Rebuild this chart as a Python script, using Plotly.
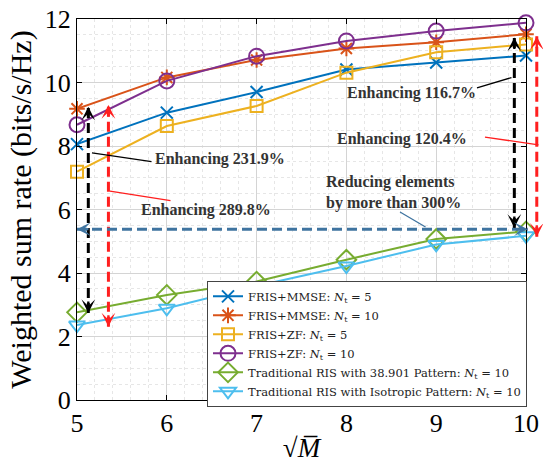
import plotly.graph_objects as go

# ---------------- data ----------------
sqrt_M = [5, 6, 7, 8, 9, 10]
fris_mmse_nt5 = [8.06, 9.05, 9.70, 10.41, 10.63, 10.85]
fris_mmse_nt10 = [9.17, 10.16, 10.71, 11.07, 11.27, 11.52]
fris_zf_nt5 = [7.19, 8.63, 9.26, 10.31, 10.95, 11.20]
fris_zf_nt10 = [8.67, 10.05, 10.83, 11.31, 11.62, 11.88]
trad_3gpp_nt10 = [2.76, 3.31, 3.73, 4.42, 5.07, 5.31]
trad_iso_nt10 = [2.36, 2.89, 3.59, 4.22, 4.90, 5.17]

series_names = [
    "FRIS+MMSE: <i>N</i><sub>t</sub> = 5",
    "FRIS+MMSE: <i>N</i><sub>t</sub> = 10",
    "FRIS+ZF: <i>N</i><sub>t</sub> = 5",
    "FRIS+ZF: <i>N</i><sub>t</sub> = 10",
    "Traditional RIS with 38.901 Pattern: <i>N</i><sub>t</sub> = 10",
    "Traditional RIS with Isotropic Pattern: <i>N</i><sub>t</sub> = 10",
]
series_values = [fris_mmse_nt5, fris_mmse_nt10, fris_zf_nt5, fris_zf_nt10,
                 trad_3gpp_nt10, trad_iso_nt10]
colors = ["#0072BD", "#D95319", "#EDB120", "#7E2F8E", "#77AC30", "#4DBEEE"]
symbols = ["x-thin-open", "asterisk-open", "square-open", "circle-open",
           "diamond-open", "triangle-down-open"]
msizes = [12, 13, 12, 15, 15, 14]

x_ticks = [5, 6, 7, 8, 9, 10]
y_ticks = [0, 2, 4, 6, 8, 10, 12]
X_RANGE = [5, 10]
Y_RANGE = [0, 12]

# dashed double-headed arrows: (x0, y0, x1, y1, colour)
dashed_arrows = [
    (5.126, 2.74, 5.126, 9.24, "#000000"),
    (5.35, 2.31, 5.35, 9.29, "#FF1F1F"),
    (9.87, 5.42, 9.87, 11.42, "#000000"),
    (10.12, 5.14, 10.12, 11.46, "#FF1F1F"),
    (5.0, 5.38, 10.02, 5.38, "#3F74A0"),
]

# annotation texts with pointer lines: text, text x, text y, line (x0,y0,x1,y1), colour
notes = [
    ("Enhancing 116.7%", 8.72, 9.67, (9.454, 9.83, 9.855, 10.17), "#000000"),
    ("Enhancing 120.4%", 8.62, 8.22, (9.543, 8.28, 10.156, 8.03), "#FF1F1F"),
    ("Enhancing 231.9%", 6.587, 7.59, (5.167, 7.78, 5.846, 7.50), "#000000"),
    ("Enhancing 289.8%", 6.437, 5.98, (5.367, 6.58, 6.058, 6.27), "#FF1F1F"),
    ("Reducing elements<br>by more than 300%", 8.52, 6.52,
     (8.597, 5.92, 8.898, 5.42), "#3F74A0"),
]

FONT = "Liberation Serif"
LEGEND_FONT = "DejaVu Serif"

# layout geometry (pixels)
W, H = 543, 466
ML, MR, MT, MB = 77, 0, 19, 66
PLOT_RIGHT = 526
D = (PLOT_RIGHT - ML) / (W - ML - MR)          # main x-axis domain end
X2_RANGE = [X_RANGE[0], X_RANGE[0] + (X_RANGE[1] - X_RANGE[0]) / D]

fig = go.Figure()
for name, vals, c, s, ms in zip(series_names, series_values, colors, symbols, msizes):
    fig.add_trace(go.Scatter(
        x=sqrt_M, y=vals, name=name, mode="lines+markers",
        line=dict(color=c, width=2),
        marker=dict(symbol=s, size=ms, color=c, line=dict(color=c, width=2)),
        cliponaxis=False,
    ))

# invisible overlay subplot (same data scale, wider clip) for the arrows
fig.add_trace(go.Scatter(x=[X2_RANGE[0]], y=[Y_RANGE[0]], xaxis="x2", yaxis="y2",
                         mode="markers", marker=dict(opacity=0), showlegend=False,
                         hoverinfo="skip"))

shapes = []
annotations = []
HEAD = 13
for x0, y0, x1, y1, col in dashed_arrows:
    shapes.append(dict(type="line", xref="x2", yref="y2",
                       x0=x0, x1=x1, y0=y0, y1=y1,
                       line=dict(color=col, width=3, dash="10px,5px"), layer="above"))
    if x0 == x1:
        heads = [(x0, y0, 0, -HEAD), (x1, y1, 0, HEAD)]
    else:
        heads = [(x0, y0, HEAD, 0), (x1, y1, -HEAD, 0)]
    for hx, hy, ax, ay in heads:
        annotations.append(dict(
            xref="x2", yref="y2", x=hx, y=hy, ax=ax, ay=ay,
            axref="pixel", ayref="pixel", text="", showarrow=True,
            arrowhead=3, arrowsize=1.0, arrowwidth=2.3, arrowcolor=col, standoff=0))

for txt, tx, ty, (lx0, ly0, lx1, ly1), col in notes:
    annotations.append(dict(
        xref="x", yref="y", x=tx, y=ty, text="<b>" + txt + "</b>", showarrow=False,
        font=dict(family=FONT, size=16, color="#333333"), align="left"))
    annotations.append(dict(
        xref="x", yref="y", x=lx0, y=ly0, ax=lx1, ay=ly1, axref="x", ayref="y",
        text="", showarrow=True, arrowhead=0, arrowwidth=1.3, arrowcolor=col,
        standoff=0, startstandoff=0))

fig.update_layout(
    width=W, height=H,
    margin=dict(l=ML, r=MR, t=MT, b=MB),
    paper_bgcolor="white", plot_bgcolor="rgba(0,0,0,0)",
    font=dict(family=FONT, color="black"),
    showlegend=True,
    legend=dict(x=(207 - ML) / (W - ML - MR), y=-0.018, xanchor="left", yanchor="bottom",
                bgcolor="white", bordercolor="#444444", borderwidth=1,
                font=dict(family=LEGEND_FONT, size=11.5, color="#222222"),
                tracegroupgap=0, itemwidth=30),
    shapes=shapes,
    annotations=annotations,
    xaxis=dict(domain=[0, D], range=X_RANGE, tickvals=x_ticks,
               ticktext=[str(v) for v in x_ticks], automargin=False,
               showline=True, linecolor="black", linewidth=1, mirror="ticks",
               ticks="inside", ticklen=5, tickcolor="black",
               showgrid=True, gridcolor="#d4d4d4", gridwidth=1.2, zeroline=False,
               minor=dict(dtick=0.2, showgrid=True, gridcolor="#e6e6e6",
                          griddash="dot", ticks=""),
               tickfont=dict(family=FONT, size=26, color="black"),
               title=dict(text="√<i>M̅</i>", font=dict(family=FONT, size=27),
                          standoff=0)),
    yaxis=dict(range=Y_RANGE, tickvals=y_ticks, ticktext=[str(v) for v in y_ticks],
               automargin=False,
               showline=True, linecolor="black", linewidth=1, mirror="ticks",
               ticks="inside", ticklen=5, tickcolor="black",
               showgrid=True, gridcolor="#d4d4d4", gridwidth=1.2, zeroline=False,
               minor=dict(dtick=0.5, showgrid=True, gridcolor="#e6e6e6",
                          griddash="dot", ticks=""),
               tickfont=dict(family=FONT, size=26, color="black"),
               title=dict(text="Weighted sum rate (bits/s/Hz)",
                          font=dict(family=FONT, size=30), standoff=4)),
    xaxis2=dict(domain=[0, 1], range=X2_RANGE, anchor="y2", visible=False,
                showgrid=False, zeroline=False),
    yaxis2=dict(domain=[0, 1], range=Y_RANGE, anchor="x2", visible=False,
                showgrid=False, zeroline=False),
)

fig.write_html("out.html", config={"displayModeBar": False},
               post_script="document.body.style.margin='0';")
